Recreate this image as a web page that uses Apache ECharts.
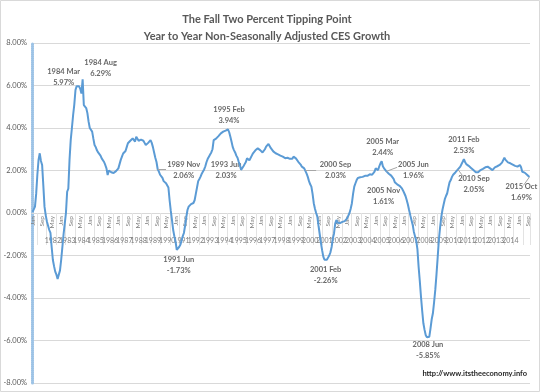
<!DOCTYPE html>
<html><head><meta charset="utf-8">
<script src="https://cdn.jsdelivr.net/npm/echarts@6/dist/echarts.min.js"></script>
<style>html,body{margin:0;padding:0;background:#fff}#c{width:540px;height:392px}</style>
</head><body><div id="c"></div>
<script>
const monthNames = ['Jan','Feb','Mar','Apr','May','Jun','Jul','Aug','Sep','Oct','Nov','Dec'];
const startYear = 1981;
const yTicks = [-8, -6, -4, -2, 0, 2, 4, 6, 8];
const values = [
 0.05, 0.1, 0.3, 0.9, 1.8, 2.5, 2.81, 2.45, 2.26, 1.3, 0.3, -0.1,
 -0.4, -0.6, -0.8, -0.94, -1.6, -2.2, -2.5, -2.76, -2.9, -3.1, -3.05, -2.7,
 -2.2, -2.25, -1.0, -0.5, 0.0, 1.0, 1.15, 2.5, 3.43, 4.0, 4.6, 5.1,
 5.79, 5.97, 5.98, 5.96, 5.85, 5.62, 6.29, 5.08, 5.05, 4.94, 4.7, 4.3,
 4.0, 3.95, 3.83, 3.5, 3.2, 3.1, 2.95, 2.85, 2.8, 2.7, 2.57, 2.5,
 2.4, 2.26, 2.1, 1.79, 2.0, 1.95, 1.92, 1.9, 1.88, 1.92, 1.97, 2.0,
 2.1, 2.3, 2.5, 2.65, 2.8, 2.89, 2.92, 3.1, 3.28, 3.3, 3.4, 3.45,
 3.51, 3.45, 3.36, 3.59, 3.5, 3.4, 3.36, 3.45, 3.51, 3.4, 3.3, 3.2,
 3.25, 3.3, 3.36, 3.43, 3.3, 3.1, 2.85, 2.6, 2.4, 2.06, 1.95, 1.8,
 1.72, 1.65, 1.5, 1.42, 1.4, 1.35, 1.2, 0.6, 0.1, -0.33, -0.8, -1.1,
 -1.35, -1.73, -1.7, -1.6, -1.5, -1.3, -1.1, -0.94, -0.6, -0.2, 0.14, 0.3,
 0.38, 0.42, 0.45, 0.47, 0.6, 0.9, 1.2, 1.5, 1.6, 1.71, 1.85, 1.95,
 2.05, 2.2, 2.4, 2.55, 2.65, 2.75, 2.85, 3.0, 3.43, 3.45, 3.5, 3.59,
 3.62, 3.7, 3.75, 3.78, 3.83, 3.85, 3.88, 3.9, 3.94, 3.8, 3.59, 3.35,
 3.1, 2.96, 2.85, 2.7, 2.6, 2.41, 2.25, 2.03, 2.1, 2.2, 2.3, 2.4,
 2.57, 2.5, 2.48, 2.5, 2.7, 2.81, 2.9, 2.95, 3.0, 3.04, 2.98, 2.96,
 2.9, 2.85, 2.78, 3.0, 3.12, 3.15, 3.25, 3.18, 3.05, 2.96, 2.9, 2.85,
 2.81, 2.78, 2.76, 2.73, 2.7, 2.68, 2.65, 2.6, 2.58, 2.57, 2.6, 2.65,
 2.55, 2.46, 2.55, 2.65, 2.6, 2.57, 2.5, 2.41, 2.35, 2.28, 2.18, 2.15,
 2.1, 2.03, 1.85, 1.7, 1.5, 1.35, 1.24, 0.9, 0.46, 0.2, 0.0, -0.17,
 -0.6, -1.0, -1.4, -1.75, -2.05, -2.2, -2.26, -2.2, -2.1, -2.0, -1.85, -1.6,
 -1.2, -0.96, -0.5, -0.33, -0.45, -0.5, -0.48, -0.45, -0.42, -0.4, -0.38, -0.3,
 -0.25, -0.17, 0.0, 0.2, 0.46, 0.9, 1.24, 1.4, 1.55, 1.65, 1.71, 1.68,
 1.63, 1.7, 1.79, 1.75, 1.71, 1.75, 1.79, 1.82, 1.87, 1.8, 1.71, 1.95,
 2.1, 2.05, 2.02, 2.2, 2.34, 2.44, 2.2, 2.1, 2.02, 1.96, 1.9, 1.85,
 1.8, 1.76, 1.71, 1.61, 1.45, 1.38, 1.35, 1.32, 1.28, 1.22, 1.16, 1.05,
 0.93, 0.8, 0.61, 0.4, 0.14, -0.1, -0.33, -0.55, -0.88, -1.1, -1.3, -1.7,
 -2.53, -3.2, -3.94, -4.6, -5.19, -5.5, -5.75, -5.85, -5.83, -5.82, -5.43, -5.0,
 -4.72, -4.2, -3.62, -2.9, -2.1, -1.27, -0.7, -0.2, 0.14, 0.4, 0.65, 0.8,
 0.93, 1.2, 1.45, 1.55, 1.7, 1.8, 1.87, 1.92, 1.98, 2.05, 2.1, 2.18,
 2.25, 2.41, 2.53, 2.4, 2.3, 2.26, 2.22, 2.18, 2.12, 2.08, 2.02, 1.98,
 1.92, 1.87, 1.92, 1.97, 2.02, 2.05, 2.08, 2.1, 2.15, 2.21, 2.18, 2.12,
 2.1, 2.06, 2.02, 2.1, 2.15, 2.18, 2.2, 2.24, 2.26, 2.3, 2.37, 2.45,
 2.6, 2.5, 2.41, 2.38, 2.36, 2.34, 2.3, 2.28, 2.26, 2.22, 2.2, 2.18,
 2.22, 2.26, 2.15, 1.94, 1.92, 1.9, 1.87, 1.8, 1.72, 1.69
];
const categories = values.map((v, i) => (startYear + Math.floor(i / 12)) + ' ' + monthNames[i % 12]);
const noteNames = ['1984 Mar','1984 Aug','1989 Nov','1991 Jun','1995 Feb','1993 Jun','2000 Sep','2001 Feb','2005 Mar','2005 Jun','2005 Nov','2008 Jun','2010 Sep','2011 Feb','2015 Oct'];
const noteIdx = [37, 42, 105, 121, 164, 175, 229, 246, 293, 297, 303, 331, 357, 362, 417];

// styling: label offsets (px) and leader line targets
const noteOffsets = [[-13,-9],[18,-11],[26,1],[2,15],[1,-14],[-15,0],[30,0],[0,14],[1,-14],[27,-1],[-10,17],[1,13],[16,15],[0,-14],[-8,15]];
const leaders = [[2, 112, 2.06],[6, 238, 2.03],[9, 306, 2.15],[12, 361, 1.75],[14, 412, 1.3]];

const FONT = 'Lato';
const chart = echarts.init(document.getElementById('c'), null, {renderer: 'canvas'});
const noteData = noteIdx.map((ix, k) => ({
  value: [ix, values[ix]],
  label: {offset: noteOffsets[k], formatter: noteNames[k] + '\n' + values[ix].toFixed(2) + '%'}
}));
const leaderData = leaders.map(l => [{coord: [noteIdx[l[0]], values[noteIdx[l[0]]]]}, {coord: [l[1], l[2]]}]);
const gridBox = {left: 32, right: 10, top: 43, bottom: 9, containLabel: false, outerBoundsMode: 'none'};
const yMin = yTicks[0], yMax = yTicks[yTicks.length - 1];
// move category axis from grid bottom up to the zero line
const plotH = 392 - 43 - 9;
const zeroOffset = -plotH * (0 - yMin) / (yMax - yMin);

chart.setOption({
  animation: false,
  title: {
    text: 'The Fall Two Percent Tipping Point\nYear to Year Non-Seasonally Adjusted CES Growth',
    left: 262, top: 6, textAlign: 'center',
    textStyle: {fontFamily: FONT, fontSize: 11, fontWeight: 'bold', color: '#595959', lineHeight: 17}
  },
  grid: [Object.assign({}, gridBox), Object.assign({}, gridBox)],
  xAxis: [{
    gridIndex: 0, type: 'category', data: categories, boundaryGap: true, position: 'bottom', offset: zeroOffset,
    axisLine: {onZero: false, lineStyle: {color: '#d9d9d9'}},
    axisTick: {show: true, interval: (i) => i % 8 === 4, length: 32, lineStyle: {color: '#e3e3e3'}},
    axisLabel: {interval: 7, rotate: 90, margin: 3, hideOverlap: false, fontFamily: FONT, fontSize: 6.5, color: '#7f7f7f',
      formatter: (v, i) => monthNames[i % 12]},
    splitLine: {show: false}
  }, {
    gridIndex: 1, type: 'category', data: categories, boundaryGap: true, position: 'bottom', offset: zeroOffset,
    axisLine: {show: false, onZero: false},
    axisTick: {show: false},
    axisLabel: {interval: (i) => i % 12 === 5, margin: 24, hideOverlap: false, fontFamily: FONT, fontSize: 7, color: '#7f7f7f',
      formatter: (v, i) => String(startYear + Math.floor(i / 12))}
  }],
  yAxis: [{
    gridIndex: 0, type: 'value', min: yMin, max: yMax, interval: 2,
    axisLine: {show: true, lineStyle: {color: '#9dc3e6', width: 3, type: [1, 1]}},
    axisTick: {show: false},
    axisLabel: {fontFamily: FONT, fontSize: 7.5, color: '#595959', margin: 5,
      formatter: (v) => v.toFixed(2) + '%'},
    splitLine: {lineStyle: {color: '#d9d9d9', width: 1}}
  }, {
    gridIndex: 1, type: 'value', min: yMin, max: yMax, interval: 2,
    axisLine: {show: false}, axisTick: {show: false}, axisLabel: {show: false}, splitLine: {show: false}
  }],
  series: [{
    type: 'line', data: values, showSymbol: false, symbol: 'none',
    lineStyle: {color: '#5b9bd5', width: 2}, xAxisIndex: 0, yAxisIndex: 0
  }, {
    type: 'scatter', data: noteData, symbolSize: 0, silent: true, xAxisIndex: 0, yAxisIndex: 0,
    label: {show: true, position: 'inside', fontFamily: FONT, fontSize: 7.5, fontWeight: 'bold',
      color: '#404040', lineHeight: 11, align: 'center', verticalAlign: 'middle'},
    markLine: {silent: true, symbol: 'none', label: {show: false},
      lineStyle: {color: '#a6a6a6', width: 1, type: 'solid'}, data: leaderData}
  }],
  graphic: [{
    type: 'rect', shape: {x: 0.5, y: 0.5, width: 539, height: 391},
    style: {fill: 'none', stroke: '#d9d9d9', lineWidth: 1}, silent: true
  }, {
    type: 'text', x: 527, y: 374,
    style: {text: 'http://www.itstheeconomy.info', font: 'bold 7.5px ' + FONT, fill: '#262626',
      textAlign: 'right', textVerticalAlign: 'middle'}
  }]
});
</script></body></html>
